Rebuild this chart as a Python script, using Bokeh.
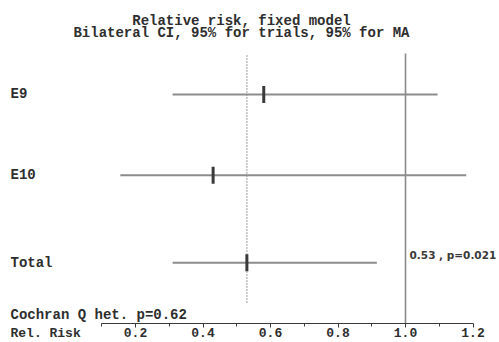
from bokeh.plotting import figure
from bokeh.models import Range1d, FixedTicker, PrintfTickFormatter, LinearAxis, ColumnDataSource
from bokeh.core.properties import value
from bokeh.embed import file_html
from bokeh.resources import INLINE

# ---- data ----
studies = ["E9", "E10", "Total"]
rel_risk = [0.58, 0.43, 0.53]
ci_low = [0.31, 0.155, 0.31]
ci_high = [1.095, 1.18, 0.915]
pooled_rr = 0.53
pooled_p = 0.021
het_p = 0.62
tick_values = [0.2, 0.4, 0.6, 0.8, 1.0, 1.2]
minor_tick_values = [0.1, 0.3, 0.5, 0.7, 0.9, 1.1]
title_lines = ["Relative risk, fixed model", "Bilateral CI, 95% for trials, 95% for MA"]

# ---- layout (row units, top to bottom) ----
row_pos = [0.0, 1.0, 2.085]
Y_BOTTOM, Y_TOP = 3.0731, -1.1648
AXIS_Y = 2.8377
MONO = value("Liberation Mono")
TXT = "#2e2e2e"

p = figure(width=499, height=342, output_backend="svg", toolbar_location=None,
           x_range=Range1d(-0.2, 1.2785), y_range=Range1d(Y_BOTTOM, Y_TOP),
           x_axis_type=None, y_axis_type=None,
           min_border_left=0, min_border_right=0, min_border_top=0, min_border_bottom=0)
p.outline_line_color = None
p.grid.visible = False
p.background_fill_color = "white"
p.border_fill_color = "white"

src = ColumnDataSource(dict(study=studies, rr=rel_risk, lo=ci_low, hi=ci_high, row=row_pos))

# reference line at RR = 1 and pooled estimate (dotted)
p.segment(x0=[1.0], y0=[-0.508], x1=[1.0], y1=[AXIS_Y], line_color="#8a8a8a", line_width=1.6)
p.segment(x0=[pooled_rr], y0=[-0.483], x1=[pooled_rr], y1=[2.590], line_color="#808080",
          line_width=1.5, line_dash="1 2")

# confidence intervals and point estimates
p.segment(x0="lo", y0="row", x1="hi", y1="row", source=src, line_color="#8c8c8c", line_width=2)
p.rect(x="rr", y="row", width=3, height=17, width_units="screen", height_units="screen",
       source=src, fill_color="#3a3a3a", line_color=None)

# study labels
p.text(x=[-0.1704] * len(studies), y=row_pos, text=studies, text_font=MONO, text_font_style="bold",
       text_font_size="14px", text_color=TXT, text_baseline="middle", text_align="left")

# titles
p.text(x=[0.514, 0.514], y=[-0.908, -0.756], text=title_lines, text_font=MONO, text_font_style="bold",
       text_font_size="14px", text_color=TXT, text_baseline="alphabetic", text_align="center")

# heterogeneity + pooled label
p.text(x=[-0.1704], y=[2.7385], text=[f"Cochran Q het. p={het_p:.2f}"], text_font=MONO,
       text_font_style="bold", text_font_size="14px", text_color=TXT, text_baseline="alphabetic")
p.text(x=[1.012], y=[1.995], text=[f"{pooled_rr:.2f} , p={pooled_p:.3f}"], text_font=value("DejaVu Sans"),
       text_font_style="bold", text_font_size="10.5px", text_color="#3a3a3a", text_baseline="middle")
p.text(x=[-0.1704], y=[2.8748], text=["Rel. Risk"], text_font=MONO, text_font_style="bold",
       text_font_size="13px", text_color=TXT, text_baseline="top")

# x axis
ax = LinearAxis(ticker=FixedTicker(ticks=tick_values, minor_ticks=minor_tick_values),
                formatter=PrintfTickFormatter(format="%.1f"), bounds=(0.1, 1.2),
                fixed_location=AXIS_Y)
ax.axis_line_color = "#3a3a3a"
ax.major_tick_line_color = "#3a3a3a"
ax.minor_tick_line_color = "#3a3a3a"
ax.major_tick_out = 4
ax.major_tick_in = 0
ax.minor_tick_out = 3
ax.minor_tick_in = 0
ax.major_label_standoff = 0
ax.major_label_text_font = "Liberation Mono"
ax.major_label_text_font_style = "bold"
ax.major_label_text_font_size = "13px"
ax.major_label_text_color = TXT
p.add_layout(ax, "below")

open("out.html", "w").write(file_html(p, INLINE))
